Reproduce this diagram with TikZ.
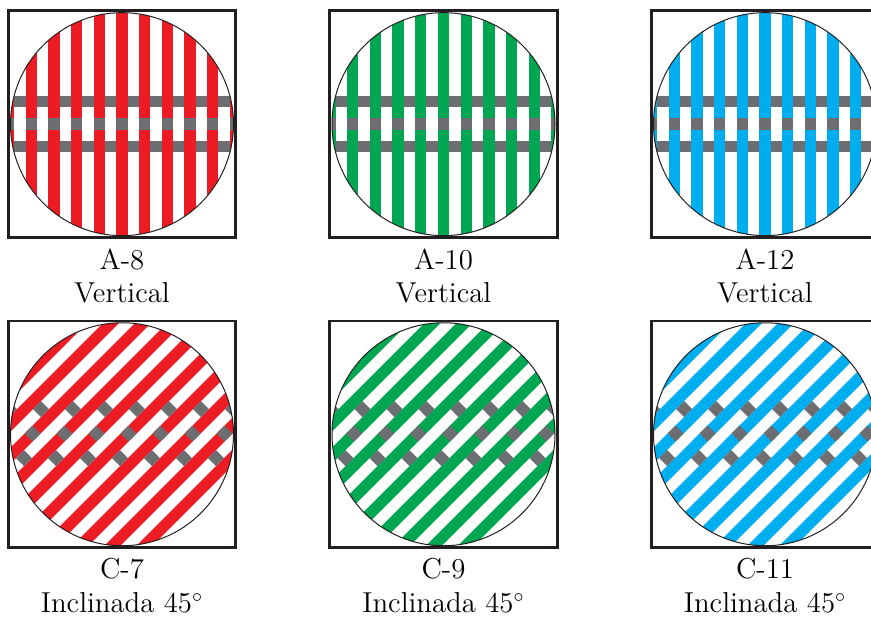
\documentclass[tikz,border=0pt]{standalone}
\usepackage{fontspec}
\definecolor{redbar}{HTML}{ED1C24}
\definecolor{greenbar}{HTML}{00A651}
\definecolor{bluebar}{HTML}{00AEEF}
\definecolor{crossgray}{HTML}{6D6E71}
\definecolor{framegray}{HTML}{231F20}
\begin{document}
\begin{tikzpicture}[x=0.5pt, y=-0.5pt,
  frame/.style={draw=framegray, line width=1.35pt},
  disc/.style={draw=framegray, line width=0.5pt},
  bar/.style={fill=crossgray},
  captxt/.style={font=\fontsize{14.4}{17}\selectfont, anchor=base, inner sep=0pt}]
  \useasboundingbox (0,0) rectangle (871,616);
  \clip (0,0) rectangle (871,616);

  % Vertical grids
  \foreach \i/\cx/\col/\code in {1/122/redbar/A-8, 2/443.5/greenbar/A-10, 3/765/bluebar/A-12}{
    \begin{scope}[shift={(\cx,124.15)}]
      \begin{scope}
        \clip (0,0) circle[radius=111.5];
        % outer cross bars run under the stripes
        \fill[bar] (-120,-28.65) rectangle (120,-17.3);
        \fill[bar] (-120,16.8) rectangle (120,28.15);
        \foreach \k in {-5,...,5}
          \fill[\col] ({\k*22.7-5.65},-120) rectangle ({\k*22.7+5.65},120);
        % middle bar lies on top of them
        \foreach \k in {-5,...,5}
          \fill[bar] ({\k*22.7-5.65},-5.95) rectangle ++(11.3,11.35);
      \end{scope}
      \draw[disc] (0,0) circle[radius=111.5];
      \draw[frame] (-113.8,-113.35) rectangle (113.8,113.35);
    \end{scope}
    \node[captxt] (vcode\i) at (\cx,269.3) {\code};
    \node[captxt] (vtype\i) at (\cx,302.7) {Vertical};
  }

  % Grids inclined at 45 degrees
  \foreach \i/\cx/\col/\code in {1/122/redbar/C-7, 2/443.5/greenbar/C-9, 3/765/bluebar/C-11}{
    \begin{scope}[shift={(\cx,434.25)}]
      \begin{scope}
        \clip (0,0) circle[radius=111.5];
        \foreach \k in {-6,...,6}
          \draw[\col, line width=5.65pt] ({6.5+32*\k-160},159.25) -- ({6.5+32*\k+160},-160.75);
        \foreach \r in {-1,0,1}
          \foreach \k in {-5,...,5}
            \fill[bar] ({6.5-8.5*\r+32*\k},{-0.75+24.5*\r}) ++(-8,0) -- ++(8,-8) -- ++(8,8) -- ++(-8,8) -- cycle;
      \end{scope}
      \draw[disc] (0,0) circle[radius=111.5];
      \draw[frame] (-113.8,-113.25) rectangle (113.8,113.25);
    \end{scope}
    \node[captxt] (dcode\i) at (\cx,578.3) {\code};
    \node[captxt] (dtype\i) at (\cx,612.7) {Inclinada 45$^\circ$};
  }
\end{tikzpicture}
\end{document}
